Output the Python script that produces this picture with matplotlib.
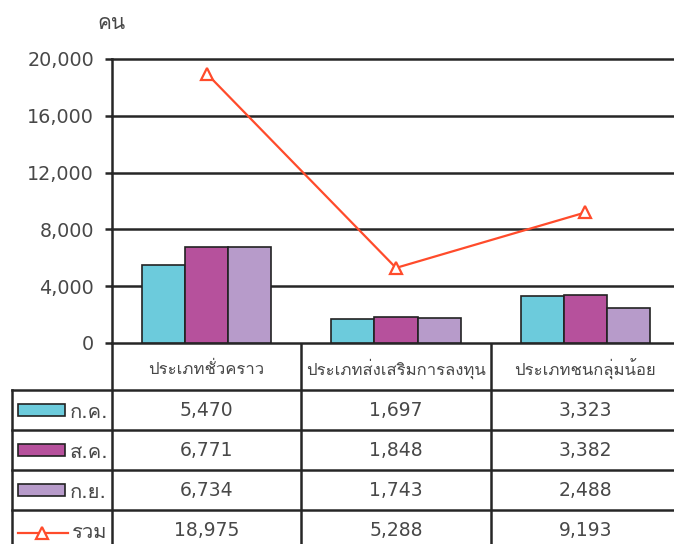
import matplotlib
matplotlib.use("Agg")
import matplotlib.pyplot as plt
import matplotlib.transforms as mtransforms
from matplotlib import font_manager
from matplotlib.ft2font import FT2Font
import numpy as np


categories = ["ประเภทชั่วคราว", "ประเภทส่งเสริมการลงทุน", "ประเภทชนกลุ่มน้อย"]
series_names = ["ก.ค.", "ส.ค.", "ก.ย."]
jul = [5470, 1697, 3323]
aug = [6771, 1848, 3382]
sep = [6734, 1743, 2488]
total = [18975, 5288, 9193]
total_name = "รวม"
y_ticks = [0, 4000, 8000, 12000, 16000, 20000]
unit_label = "คน"

BAR_COLORS = ["#6ccbdc", "#b6519c", "#b79bca"]
LINE_COLOR = "#ff4b2b"
GRID = "#262626"
TEXT = "#484848"


def find_thai_font():
    for f in font_manager.fontManager.ttflist:
        try:
            if ord("ก") in FT2Font(f.fname).get_charmap():
                return f.name
        except Exception:
            continue
    return "DejaVu Sans"


THAI = ["DejaVu Sans", find_thai_font()]

W, H = 674, 544
fig = plt.figure(figsize=(W / 100, H / 100), dpi=100)

# chart area in pixel terms
left, right, top, base = 112, 680, 59, 343
ax = fig.add_axes([left / W, 1 - base / H, (right - left) / W, (base - top) / H])

x = np.arange(len(categories))
bw = 0.228
for i, vals in enumerate([jul, aug, sep]):
    ax.bar(x + (i - 1) * bw, vals, bw, color=BAR_COLORS[i],
           edgecolor="#222222", linewidth=1.2, zorder=3)
ax.plot(x, total, color=LINE_COLOR, lw=1.6, marker="^", ms=8,
        mfc="white", mec=LINE_COLOR, mew=1.6, zorder=4)

ax.set_xlim(-0.5, 2.5)
ax.set_ylim(0, 20000)
ax.set_yticks(y_ticks)
ax.set_yticklabels([f"{v:,}" for v in y_ticks], fontsize=13.8, color=TEXT)
ax.set_xticks([])
ax.tick_params(axis="y", length=5, width=1.8, color=GRID, pad=8)
ax.yaxis.grid(True, color=GRID, lw=1.8)
ax.set_axisbelow(True)
for s in ["top", "right", "bottom"]:
    ax.spines[s].set_visible(False)
ax.spines["left"].set_color(GRID)
ax.spines["left"].set_linewidth(1.8)
ax.spines["left"].set_zorder(5)
for line in ax.get_ygridlines():
    line.set_clip_on(False)

fig.text(111 / W, 1 - 23 / H, unit_label, family=THAI, fontsize=15,
         color=TEXT, ha="center", va="center")

# table underneath, in pixel coords
ov = fig.add_axes([0, 0, 1, 1], zorder=-1)
ov.set_xlim(0, W)
ov.set_ylim(H, 0)
ov.axis("off")
cell_x = mtransforms.blended_transform_factory(ax.transData, ov.transData)

rows = [390, 430, 470, 510]
lw = 1.8
for y in rows:
    ov.plot([12, W + 10], [y, y], color=GRID, lw=lw, clip_on=False)
ov.plot([12, 12], [390, H + 5], color=GRID, lw=lw)
ov.plot([left, left], [base, H + 5], color=GRID, lw=lw)
for b in [0.5, 1.5]:
    ov.plot([b, b], [base, H + 5], color=GRID, lw=lw, transform=cell_x)

for xi, name in zip(x, categories):
    ov.text(xi, 369, name, family=THAI, fontsize=12, color=TEXT,
            ha="center", va="center", transform=cell_x)

row_mid = [410, 450, 490, 530]
for r, vals in enumerate([jul, aug, sep, total]):
    for xi, v in zip(x, vals):
        ov.text(xi, row_mid[r] + 1, f"{v:,}", fontsize=13.5, color=TEXT,
                ha="center", va="center", transform=cell_x)

# legend keys
for r, name in enumerate(series_names):
    y = row_mid[r]
    ov.add_patch(plt.Rectangle((18, y - 6), 47, 12, facecolor=BAR_COLORS[r],
                               edgecolor="#222222", lw=1.2))
    ov.text(70, y + 2, name, family=THAI, fontsize=14.5, color=TEXT,
            ha="left", va="center")
ov.plot([18, 68], [533, 533], color=LINE_COLOR, lw=1.6)
ov.plot([42], [533], marker="^", ms=8, mfc="white", mec=LINE_COLOR, mew=1.6)
ov.text(72, 532, total_name, family=THAI, fontsize=14.5, color=TEXT,
        ha="left", va="center")

fig.savefig("out.png", dpi=100)
